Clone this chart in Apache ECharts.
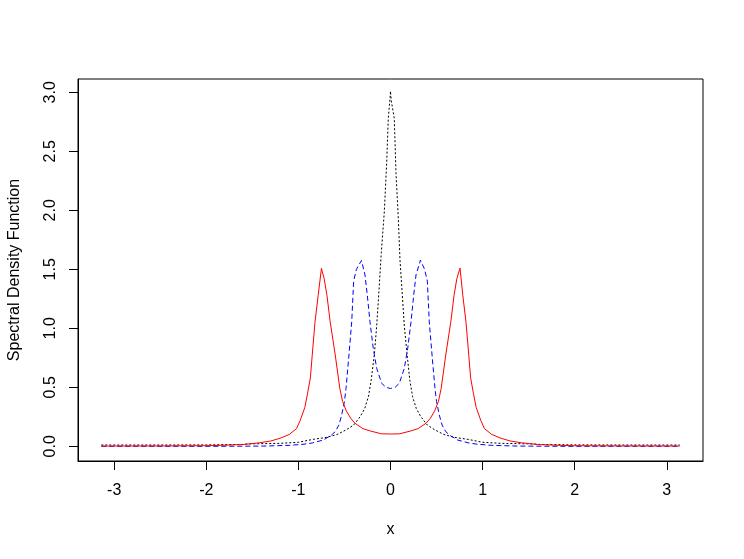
<!DOCTYPE html>
<html>
<head>
<meta charset="utf-8">
<script src="https://cdn.jsdelivr.net/npm/echarts@6/dist/echarts.min.js"></script>
<style>
  html, body { margin: 0; padding: 0; background: #ffffff; }
  #chart { width: 744px; height: 559px; }
</style>
</head>
<body>
<div id="chart"></div>
<script>
// values
var blackX = [-3.14, -2.5, -2.0, -1.6, -1.56, -1.2, -1.0, -0.84, -0.7, -0.58, -0.48, -0.4, -0.33, -0.28, -0.24, -0.21, -0.175, -0.15, -0.125, -0.1, -0.067, -0.041, -0.024, -0.005, 0,
  0.008, 0.041, 0.06, 0.085, 0.103, 0.125, 0.15, 0.18, 0.21, 0.24, 0.28, 0.33, 0.4, 0.48, 0.58, 0.7, 0.84, 1.0, 1.2, 1.56, 1.6, 2.0, 2.5, 3.14];
var blackY = [0.011, 0.011, 0.012, 0.016, 0.02, 0.025, 0.034, 0.059, 0.075, 0.10, 0.14, 0.18, 0.25, 0.32, 0.42, 0.56, 0.78, 1.02, 1.32, 1.64, 1.99, 2.41, 2.78, 2.95, 3.01,
  2.93, 2.78, 2.31, 1.93, 1.58, 1.32, 1.02, 0.78, 0.56, 0.42, 0.32, 0.25, 0.18, 0.14, 0.10, 0.075, 0.059, 0.034, 0.025, 0.02, 0.016, 0.012, 0.011, 0.011];

var blueX = [-3.14, -1.85, -1.38, -1.1, -0.95, -0.85, -0.73, -0.65, -0.6, -0.56, -0.53, -0.5, -0.483, -0.451, -0.421, -0.4, -0.37, -0.315, -0.277, -0.252, -0.223, -0.187, -0.15, -0.096, -0.05, 0,
  0.05, 0.096, 0.15, 0.187, 0.223, 0.252, 0.277, 0.325, 0.37, 0.4, 0.421, 0.451, 0.483, 0.5, 0.53, 0.56, 0.6, 0.65, 0.73, 0.85, 0.95, 1.1, 1.38, 1.85, 3.14];
var blueY = [0.0, 0.0, 0.002, 0.008, 0.017, 0.028, 0.053, 0.09, 0.124, 0.18, 0.265, 0.38, 0.49, 0.774, 1.056, 1.40, 1.50, 1.575, 1.452, 1.282, 1.056, 0.83, 0.661, 0.534, 0.50, 0.49,
  0.50, 0.534, 0.661, 0.83, 1.056, 1.282, 1.452, 1.578, 1.50, 1.40, 1.056, 0.774, 0.49, 0.38, 0.265, 0.18, 0.124, 0.09, 0.053, 0.028, 0.017, 0.008, 0.002, 0.0, 0.0];

var redX = [-3.14, -2.5, -2.0, -1.85, -1.6, -1.42, -1.3, -1.2, -1.1, -1.02, -0.98, -0.93, -0.9, -0.87, -0.85, -0.82, -0.785, -0.75, -0.72, -0.69, -0.655, -0.6, -0.55, -0.52, -0.48, -0.43, -0.385, -0.3, -0.22, -0.1, 0,
  0.1, 0.22, 0.3, 0.385, 0.43, 0.48, 0.52, 0.55, 0.6, 0.655, 0.69, 0.72, 0.755, 0.785, 0.82, 0.85, 0.87, 0.9, 0.93, 0.98, 1.02, 1.1, 1.2, 1.3, 1.42, 1.6, 1.85, 2.0, 2.5, 3.14];
var redY = [0.002, 0.003, 0.005, 0.008, 0.015, 0.03, 0.045, 0.068, 0.10, 0.15, 0.22, 0.33, 0.45, 0.58, 0.77, 1.05, 1.28, 1.508, 1.42, 1.28, 1.056, 0.774, 0.49, 0.38, 0.30, 0.235, 0.195, 0.15, 0.13, 0.106, 0.104,
  0.106, 0.13, 0.15, 0.195, 0.235, 0.30, 0.38, 0.49, 0.774, 1.056, 1.28, 1.42, 1.51, 1.28, 1.05, 0.77, 0.58, 0.45, 0.33, 0.22, 0.15, 0.10, 0.068, 0.045, 0.03, 0.015, 0.008, 0.005, 0.003, 0.002];

var xTicks = [-3, -2, -1, 0, 1, 2, 3];
var yTicks = [0, 0.5, 1, 1.5, 2, 2.5, 3];

function pairs(xs, ys) {
  var out = [];
  for (var i = 0; i < xs.length; i++) out.push([xs[i], ys[i]]);
  return out;
}

var font = "Liberation Sans, Arial, sans-serif";
var chart = echarts.init(document.getElementById("chart"), null, { renderer: "canvas" });
chart.setOption({
  backgroundColor: "#ffffff",
  animation: false,
  grid: {
    left: 78,
    right: 41,
    top: 79,
    bottom: 98,
    containLabel: false,
    outerBoundsMode: "none",
    show: true,
    borderColor: "#000000",
    borderWidth: 1,
    backgroundColor: "transparent"
  },
  xAxis: {
    type: "value",
    min: -3.3929,
    max: 3.3929,
    name: "x",
    nameLocation: "middle",
    nameGap: 61,
    nameTextStyle: { color: "#000", fontSize: 16, fontFamily: font },
    splitLine: { show: false },
    axisLine: { show: true, onZero: false, lineStyle: { color: "#000", width: 1 } },
    axisTick: { show: true, length: 9, customValues: xTicks, lineStyle: { color: "#000", width: 1 } },
    axisLabel: {
      customValues: xTicks,
      margin: 22,
      color: "#000",
      fontSize: 16,
      fontFamily: font
    }
  },
  yAxis: {
    type: "value",
    min: -0.1246,
    max: 3.113,
    name: "Spectral Density Function",
    nameLocation: "middle",
    nameRotate: 90,
    nameGap: 55,
    nameTextStyle: { color: "#000", fontSize: 16, fontFamily: font },
    splitLine: { show: false },
    axisLine: { show: true, onZero: false, lineStyle: { color: "#000", width: 1 } },
    axisTick: { show: true, length: 9, customValues: yTicks, lineStyle: { color: "#000", width: 1 } },
    axisLabel: {
      customValues: yTicks,
      rotate: 90,
      margin: 19,
      color: "#000",
      fontSize: 16,
      fontFamily: font,
      formatter: function (v) { return v.toFixed(1); }
    }
  },
  series: [
    {
      name: "black",
      type: "line",
      data: pairs(blackX, blackY),
      symbol: "none",
      lineStyle: { color: "#000000", width: 1, type: [2, 2] }
    },
    {
      name: "blue",
      type: "line",
      data: pairs(blueX, blueY),
      symbol: "none",
      lineStyle: { color: "#0000ff", width: 1, type: [5, 3] }
    },
    {
      name: "red",
      type: "line",
      data: pairs(redX, redY),
      symbol: "none",
      lineStyle: { color: "#ff0000", width: 1 }
    }
  ]
});
</script>
</body>
</html>
